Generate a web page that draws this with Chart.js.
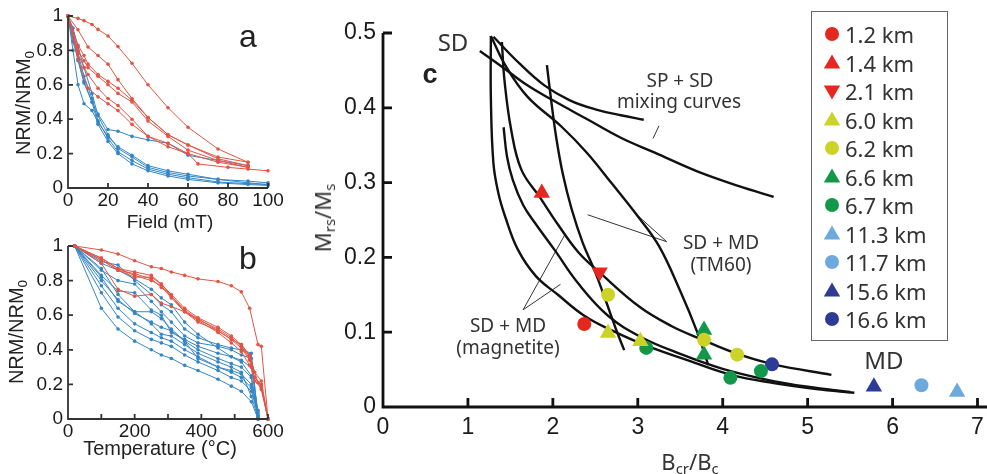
<!DOCTYPE html>
<html>
<head>
<meta charset="utf-8">
<script src="https://cdn.jsdelivr.net/npm/chart.js@4.4.1/dist/chart.umd.min.js"></script>
<style>
  body { margin: 0; background: #fff; }
  #fig { position: relative; width: 987px; height: 474px; overflow: hidden; font-family: "Liberation Sans", Arial, sans-serif; color: #222; }
  #fig canvas { position: absolute; }
  .lbl { position: absolute; white-space: nowrap; line-height: 1; transform: translate(-50%, -50%); }
  .rot { transform: translate(-50%, -50%) rotate(-90deg); }
  .note { font-family: "Noto Sans", sans-serif; font-size: 19px; color: #333; }
  #legend { position: absolute; left: 811px; top: 11px; width: 137px; height: 330px; box-sizing: border-box; border: 1.5px solid #666; }
  #legend .row { position: absolute; left: 10px; height: 22px; display: flex; align-items: center; font-family: "Noto Sans", sans-serif; font-size: 22px; color: #333; transform: translateY(-50%); }
  #legend svg { margin-right: 3px; }
  sub { font-size: 0.68em; vertical-align: -0.28em; line-height: 0; }
</style>
</head>
<body>
<div id="fig">
  <canvas id="ca" width="290" height="232" style="left:0;top:0"></canvas>
  <canvas id="cb" width="290" height="242" style="left:0;top:232px"></canvas>
  <canvas id="cc" width="697" height="474" style="left:290px;top:0"></canvas>

  <div class="lbl rot" style="left:23px;top:103px;font-size:20px">NRM/NRM<sub>0</sub></div>
  <div class="lbl" style="left:170px;top:221px;font-size:19px">Field (mT)</div>
  <div class="lbl" style="left:248px;top:36px;font-size:32px">a</div>

  <div class="lbl rot" style="left:16px;top:332px;font-size:20px">NRM/NRM<sub>0</sub></div>
  <div class="lbl" style="left:160px;top:448px;font-size:20px">Temperature (°C)</div>
  <div class="lbl" style="left:248px;top:258px;font-size:32px">b</div>

  <div class="lbl rot note" style="left:322px;top:218px;font-size:22px">M<sub>rs</sub>/M<sub>s</sub></div>
  <div class="lbl note" style="left:690px;top:461px;font-size:22px">B<sub>cr</sub>/B<sub>c</sub></div>
  <div class="lbl" style="left:430px;top:74px;font-size:27px;font-weight:bold">c</div>
  <div class="lbl note" style="left:453px;top:42px;font-size:24px">SD</div>
  <div class="lbl note" style="left:884px;top:360px;font-size:24px">MD</div>
  <div class="lbl note" style="left:680px;top:80px">SP + SD</div>
  <div class="lbl note" style="left:679px;top:101px">mixing curves</div>
  <div class="lbl note" style="left:721px;top:242px">SD + MD</div>
  <div class="lbl note" style="left:721px;top:264px">(TM60)</div>
  <div class="lbl note" style="left:508px;top:325px">SD + MD</div>
  <div class="lbl note" style="left:508px;top:347px">(magnetite)</div>

  <div id="legend"></div>
</div>
<script>
// ---- panel a: alternating-field demagnetization ----
const afRedSteps = [
  [0, 5, 8, 12, 15, 20, 25, 32, 40, 50, 60, 75, 90],
  [0, 5, 10, 15, 20, 25, 32, 40, 50, 60, 75, 90],
  [0, 5, 8, 10, 15, 20, 25, 32, 40, 50, 60, 75, 90],
  [0, 5, 8, 10, 15, 20, 25, 32, 40, 50, 60, 75, 90],
  [0, 5, 8, 10, 15, 20, 25, 32, 40, 50, 60, 65, 80, 90, 100],
  [0, 5, 10, 15, 20, 25, 32, 40, 50, 60, 75, 90]
];
const afRedNrm = [
  [1, 0.986, 0.973, 0.951, 0.922, 0.884, 0.822, 0.725, 0.6, 0.467, 0.353, 0.227, 0.149],
  [1, 0.92, 0.82, 0.77, 0.72, 0.63, 0.52, 0.41, 0.31, 0.25, 0.18, 0.15],
  [1, 0.83, 0.77, 0.72, 0.66, 0.62, 0.58, 0.51, 0.41, 0.31, 0.25, 0.17, 0.13],
  [1, 0.8, 0.74, 0.7, 0.65, 0.6, 0.55, 0.5, 0.39, 0.3, 0.22, 0.16, 0.12],
  [1, 0.78, 0.7, 0.66, 0.58, 0.52, 0.48, 0.4, 0.3, 0.24, 0.2, 0.14, 0.12, 0.11, 0.1],
  [1, 0.75, 0.58, 0.53, 0.49, 0.45, 0.37, 0.3, 0.26, 0.2, 0.15, 0.12]
];
const afBlueSteps = [
  [0, 2.5, 5, 8, 12, 15, 20, 25, 32, 40, 50, 60, 75, 90],
  [0, 2.5, 5, 8, 12, 15, 20, 25, 32, 40, 50, 60, 75, 90, 100],
  [0, 2.5, 5, 8, 12, 15, 20, 25, 32, 40, 50, 60, 75, 90, 100],
  [0, 2.5, 5, 8, 12, 15, 20, 25, 32, 40, 50, 60, 75, 90, 100],
  [0, 2.5, 5, 8, 12, 15, 20, 25, 32, 40, 50, 60, 75, 90, 100]
];
const afBlueNrm = [
  [1, 0.85, 0.75, 0.62, 0.5, 0.43, 0.34, 0.33, 0.3, 0.28, 0.26, 0.19, 0.16, 0.13],
  [1, 0.8, 0.6, 0.49, 0.45, 0.38, 0.3, 0.24, 0.19, 0.13, 0.1, 0.08, 0.05, 0.04, 0.03],
  [1, 0.9, 0.78, 0.65, 0.52, 0.39, 0.29, 0.21, 0.16, 0.11, 0.08, 0.06, 0.035, 0.025, 0.02],
  [1, 0.88, 0.74, 0.61, 0.5, 0.37, 0.27, 0.2, 0.14, 0.1, 0.07, 0.05, 0.03, 0.02, 0.015],
  [1, 0.93, 0.82, 0.7, 0.55, 0.42, 0.31, 0.23, 0.18, 0.12, 0.09, 0.07, 0.05, 0.03, 0.02]
];

// ---- panel b: thermal demagnetization ----
const thRedSteps = [
  [20, 100, 150, 200, 250, 280, 310, 350, 390, 450, 490, 520, 545, 570, 580, 600],
  [20, 100, 150, 200, 250, 280, 310, 350, 390, 450, 490, 520, 545, 560, 580, 600],
  [20, 100, 150, 200, 250, 280, 310, 350, 390, 450, 490, 520, 545, 560, 580, 600],
  [20, 100, 150, 200, 250, 280, 310, 350, 390, 450, 490, 520, 545, 560, 580, 600],
  [20, 100, 150, 200, 250, 280, 310, 350, 390, 450, 490, 520, 545, 560, 580, 600],
  [20, 100, 150, 200, 250, 280, 310, 350, 390, 450, 490, 520, 545, 570, 580, 600]
];
const thRedNrm = [
  [1, 0.977, 0.954, 0.915, 0.88, 0.87, 0.85, 0.83, 0.81, 0.795, 0.77, 0.735, 0.64, 0.43, 0.42, 0],
  [1, 0.93, 0.87, 0.85, 0.83, 0.78, 0.72, 0.64, 0.585, 0.53, 0.48, 0.43, 0.37, 0.27, 0.22, 0],
  [1, 0.92, 0.86, 0.84, 0.81, 0.76, 0.71, 0.63, 0.575, 0.52, 0.47, 0.42, 0.35, 0.24, 0.19, 0],
  [1, 0.93, 0.87, 0.83, 0.8, 0.77, 0.7, 0.62, 0.56, 0.51, 0.46, 0.41, 0.34, 0.22, 0.18, 0],
  [1, 0.92, 0.86, 0.82, 0.82, 0.78, 0.71, 0.62, 0.57, 0.5, 0.44, 0.39, 0.31, 0.24, 0.2, 0],
  [1, 0.9, 0.75, 0.71, 0.72, 0.67, 0.65, 0.62, 0.58, 0.51, 0.46, 0.43, 0.36, 0.21, 0.17, 0]
];
const thBlueSteps = [20, 100, 150, 200, 250, 280, 310, 350, 390, 450, 490, 520, 550, 570];
const thBlueNrm = [
  [1, 0.91, 0.89, 0.8, 0.72, 0.66, 0.62, 0.52, 0.47, 0.43, 0.41, 0.4, 0.38, 0],
  [1, 0.86, 0.8, 0.78, 0.68, 0.62, 0.56, 0.48, 0.44, 0.42, 0.4, 0.37, 0.35, 0.02],
  [1, 0.83, 0.74, 0.73, 0.63, 0.6, 0.5, 0.46, 0.42, 0.38, 0.36, 0.34, 0.3, 0.04],
  [1, 0.8, 0.69, 0.61, 0.56, 0.53, 0.51, 0.45, 0.4, 0.35, 0.32, 0.3, 0.24, 0.01],
  [1, 0.77, 0.64, 0.55, 0.5, 0.47, 0.45, 0.4, 0.36, 0.3, 0.27, 0.24, 0.18, 0.02],
  [1, 0.73, 0.59, 0.51, 0.46, 0.44, 0.42, 0.37, 0.33, 0.28, 0.24, 0.22, 0.16, 0.03],
  [1, 0.64, 0.52, 0.45, 0.4, 0.37, 0.35, 0.31, 0.28, 0.23, 0.19, 0.16, 0.1, 0],
  [1, 0.87, 0.72, 0.62, 0.62, 0.58, 0.52, 0.45, 0.35, 0.3, 0.28, 0.26, 0.2, 0.05],
  [1, 0.82, 0.68, 0.62, 0.55, 0.49, 0.48, 0.43, 0.38, 0.33, 0.3, 0.27, 0.13, 0.01],
  [1, 0.9, 0.86, 0.81, 0.75, 0.7, 0.66, 0.56, 0.49, 0.41, 0.36, 0.33, 0.25, 0]
];

// ---- panel c: Day plot, one entry per sample depth ----
const depthLabels = ['1.2 km', '1.4 km', '2.1 km', '6.0 km', '6.2 km', '6.6 km', '6.7 km', '11.3 km', '11.7 km', '15.6 km', '16.6 km'];
const depthColors = ['#e5281f', '#e5281f', '#e5281f', '#cbd327', '#cbd327', '#13984a', '#13984a', '#6da9dc', '#6da9dc', '#2e3b96', '#2e3b96'];
const depthShapes = ['circle', 'up', 'down', 'up', 'circle', 'up', 'circle', 'up', 'circle', 'up', 'circle'];
const depthBcrBc = [[2.37], [1.87], [2.55], [2.65, 3.03], [2.65, 3.78, 4.17], [3.78, 3.78], [3.1, 4.09, 4.45], [6.76], [6.34], [5.78], [4.58]];
const depthMrsMs = [[0.111], [0.286], [0.18], [0.099, 0.088], [0.15, 0.09, 0.07], [0.103, 0.07], [0.079, 0.039, 0.048], [0.02], [0.029], [0.027], [0.057]];

// theoretical mixing curves (Bcr/Bc, Mrs/Ms)
const magOuterX = [1.27, 1.27, 1.3, 1.36, 1.44, 1.59, 1.8, 2.06, 2.37, 2.7, 3.1, 3.6, 4.1, 4.6, 5.1, 5.55];
const magOuterY = [0.496, 0.414, 0.326, 0.285, 0.254, 0.21, 0.175, 0.15, 0.122, 0.102, 0.082, 0.062, 0.043, 0.032, 0.024, 0.019];
const magInnerX = [1.42, 1.46, 1.53, 1.65, 1.79, 2.02, 2.3, 2.65, 3.03, 3.5, 4.0, 4.5, 5.0, 5.5];
const magInnerY = [0.374, 0.335, 0.303, 0.27, 0.246, 0.21, 0.165, 0.122, 0.094, 0.071, 0.051, 0.037, 0.027, 0.02];
const magMidX = [1.4, 1.43, 1.51, 1.63, 1.85, 2.06, 2.3, 2.55, 3.02, 3.4, 3.72, 4.15, 4.6, 5.28];
const magMidY = [0.488, 0.437, 0.37, 0.317, 0.28, 0.244, 0.207, 0.18, 0.134, 0.108, 0.092, 0.072, 0.057, 0.043];
const tmSteepX = [1.93, 1.98, 2.04, 2.12, 2.22, 2.35, 2.5, 2.63, 2.74, 2.84];
const tmSteepY = [0.457, 0.41, 0.36, 0.31, 0.265, 0.22, 0.18, 0.14, 0.105, 0.076];
const tmLongX = [1.27, 1.45, 1.7, 2.1, 2.4, 2.7, 3.0, 3.25, 3.5, 3.7, 3.83];
const tmLongY = [0.496, 0.455, 0.415, 0.375, 0.34, 0.298, 0.255, 0.215, 0.155, 0.1, 0.056];
const spLongX = [1.14, 1.4, 1.7, 2.0, 2.4, 2.8, 3.2, 3.7, 4.2, 4.6];
const spLongY = [0.476, 0.455, 0.43, 0.41, 0.385, 0.36, 0.34, 0.315, 0.295, 0.281];
const spShortX = [1.3, 1.6, 1.9, 2.2, 2.5, 2.8, 3.07];
const spShortY = [0.495, 0.46, 0.43, 0.41, 0.398, 0.39, 0.384];

// label pointers
const leaderX = [[3.18, 3.25], [2.41, 3.34], [2.95, 3.34], [1.65, 2.14], [1.65, 2.09]];
const leaderY = [[0.359, 0.376], [0.257, 0.221], [0.261, 0.221], [0.13, 0.23], [0.13, 0.164]];

const RED = '#e25444';
const BLUE = '#3586c4';

const pts = (xs, ys) => xs.map((x, i) => ({ x, y: ys[i] }));

// axis lines with inward tick marks
const frameAxes = {
  id: 'frameAxes',
  afterDatasetsDraw(chart, args, o) {
    const { ctx, chartArea: a, scales: { x, y } } = chart;
    ctx.save();
    ctx.strokeStyle = o.color;
    ctx.lineWidth = o.width;
    ctx.beginPath();
    ctx.moveTo(a.left, y.getPixelForValue(y.max));
    ctx.lineTo(a.left, a.bottom);
    ctx.lineTo(x.getPixelForValue(x.max) + o.extend, a.bottom);
    x.ticks.forEach(t => {
      if (t.value <= x.min) return;
      const px = x.getPixelForValue(t.value);
      ctx.moveTo(px, a.bottom);
      ctx.lineTo(px, a.bottom - o.len);
    });
    y.ticks.forEach(t => {
      if (t.value <= y.min) return;
      const py = y.getPixelForValue(t.value);
      ctx.moveTo(a.left, py);
      ctx.lineTo(a.left + o.len, py);
    });
    ctx.stroke();
    ctx.restore();
  }
};

function scaleX(min, max, step, size, height, pad, labelEvery) {
  return {
    min, max,
    grid: { display: false, drawTicks: false }, border: { display: false },
    ticks: {
      stepSize: step, padding: pad, color: '#1a1a1a', maxRotation: 0, minRotation: 0, autoSkip: false,
      font: { family: 'Liberation Sans', size },
      callback: v => (v % labelEvery === 0 ? v : '')
    },
    afterFit(s) { s.height = height; s.paddingLeft = 0; s.paddingRight = 0; }
  };
}
function scaleY(min, max, step, size, width, pad) {
  return {
    min, max,
    grid: { display: false, drawTicks: false }, border: { display: false },
    ticks: { stepSize: step, padding: pad, color: '#1a1a1a', font: { family: 'Liberation Sans', size }, callback: v => +v.toFixed(1) },
    afterFit(s) { s.width = width; s.paddingTop = 0; s.paddingBottom = 0; }
  };
}

function demagLine(steps, vals, color) {
  return {
    data: pts(steps, vals), showLine: true, borderColor: color, backgroundColor: color,
    borderWidth: 1, pointRadius: 1.8, pointBorderWidth: 0, tension: 0, clip: false
  };
}

const baseOpts = { responsive: false, animation: false, events: [], plugins: { legend: { display: false }, tooltip: { enabled: false } } };

new Chart(document.getElementById('ca'), {
  type: 'scatter',
  data: {
    datasets: [
      ...afRedNrm.map((v, i) => demagLine(afRedSteps[i], v, RED)),
      ...afBlueNrm.map((v, i) => demagLine(afBlueSteps[i], v, BLUE))
    ]
  },
  options: {
    ...baseOpts,
    layout: { padding: { left: 0, top: 16, right: 22, bottom: 0 } },
    scales: { x: scaleX(0, 100, 20, 19, 44, 1, 20), y: scaleY(0, 1, 0.2, 19, 68, 5) },
    plugins: { ...baseOpts.plugins, frameAxes: { color: '#333', width: 1.8, len: 5, extend: 0 } }
  },
  plugins: [frameAxes]
});

// tick marks every 100 °C, labels every 200 °C
new Chart(document.getElementById('cb'), {
  type: 'scatter',
  data: {
    datasets: [
      ...thRedNrm.map((v, i) => demagLine(thRedSteps[i], v, RED)),
      ...thBlueNrm.map(v => demagLine(thBlueSteps, v, BLUE))
    ]
  },
  options: {
    ...baseOpts,
    layout: { padding: { left: 0, top: 14, right: 22, bottom: 0 } },
    scales: { x: scaleX(0, 600, 100, 19, 55, 1, 200), y: scaleY(0, 1, 0.2, 19, 68, 5) },
    plugins: { ...baseOpts.plugins, frameAxes: { color: '#333', width: 1.8, len: 5, extend: 0 } }
  },
  plugins: [frameAxes]
});

const curve = (xs, ys) => ({
  data: pts(xs, ys), showLine: true, borderColor: '#111', borderWidth: 2.4,
  pointRadius: 0, tension: 0.4, order: 2, clip: false
});
const leader = (xs, ys) => ({
  data: pts(xs, ys), showLine: true, borderColor: '#333', borderWidth: 1,
  pointRadius: 0, tension: 0, order: 2, clip: false
});
const styleOf = s => (s === 'circle' ? 'circle' : 'triangle');

new Chart(document.getElementById('cc'), {
  type: 'scatter',
  data: {
    datasets: [
      ...depthLabels.map((lab, i) => ({
        label: lab,
        data: pts(depthBcrBc[i], depthMrsMs[i]),
        pointStyle: styleOf(depthShapes[i]),
        rotation: depthShapes[i] === 'down' ? 180 : 0,
        pointRadius: depthShapes[i] === 'circle' ? 7 : 9.5,
        backgroundColor: depthColors[i], borderColor: depthColors[i], borderWidth: 0,
        order: 0, clip: false
      })),
      curve(magOuterX, magOuterY),
      curve(magInnerX, magInnerY),
      curve(magMidX, magMidY),
      curve(tmSteepX, tmSteepY),
      curve(tmLongX, tmLongY),
      curve(spLongX, spLongY),
      curve(spShortX, spShortY),
      ...leaderX.map((xs, i) => leader(xs, leaderY[i]))
    ]
  },
  options: {
    ...baseOpts,
    layout: { padding: { left: 0, top: 33, right: 2, bottom: 0 } },
    scales: { x: scaleX(0, 7, 1, 23, 67, 7, 1), y: scaleY(0, 0.5, 0.1, 23, 93, 7) },
    plugins: { ...baseOpts.plugins, frameAxes: { color: '#111', width: 2.8, len: 9, extend: 10 } }
  },
  plugins: [frameAxes]
});

// legend rows built from the same depth arrays
function markerSvg(shape, color) {
  if (shape === 'circle') return `<circle cx="10" cy="10" r="7" fill="${color}"/>`;
  if (shape === 'up') return `<polygon points="10,1.5 18.2,15.5 1.8,15.5" fill="${color}"/>`;
  return `<polygon points="10,18.5 18.2,4.5 1.8,4.5" fill="${color}"/>`;
}
const legendBox = document.getElementById('legend');
depthLabels.forEach((lab, i) => {
  const row = document.createElement('div');
  row.className = 'row';
  row.style.top = (22 + 28.5 * i) + 'px';
  row.innerHTML = `<svg width="20" height="20">${markerSvg(depthShapes[i], depthColors[i])}</svg><span>${lab}</span>`;
  legendBox.appendChild(row);
});
</script>
</body>
</html>
